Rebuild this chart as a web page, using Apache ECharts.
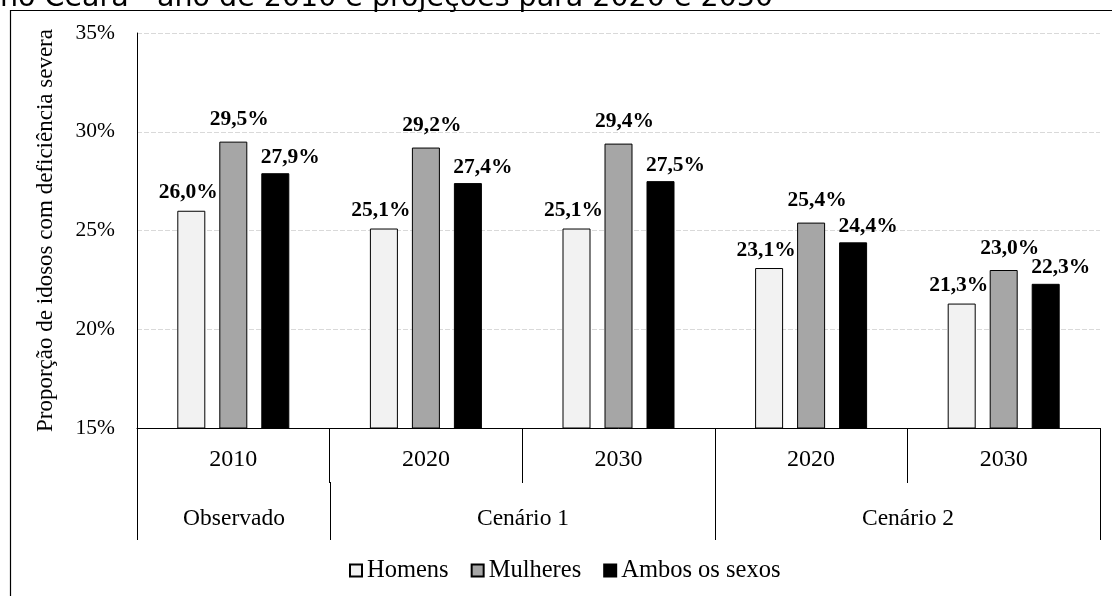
<!DOCTYPE html>
<html>
<head>
<meta charset="utf-8">
<script src="https://cdn.jsdelivr.net/npm/echarts@6/dist/echarts.min.js"></script>
<style>
  html, body { margin: 0; padding: 0; background: #fff; }
  #chart { width: 1112px; height: 596px; }
</style>
</head>
<body>
<div id="chart"></div>
<script>
// Years shown in the first row of the category axis
const years = ['2010', '2020', '2030', '2020', '2030'];
// Second row: group name and the range of year columns it covers
const groupNames = ['Observado', 'Cenário 1', 'Cenário 2'];
const groupSpans = [[0, 0], [1, 2], [3, 4]];

// Share of elderly people with severe disability (%)
const homens = [26.0, 25.1, 25.1, 23.1, 21.3];
const mulheres = [29.5, 29.2, 29.4, 25.4, 23.0];
const ambos = [27.9, 27.4, 27.5, 24.4, 22.3];

const yTicks = { min: 15, max: 35, step: 5 };

const serif = '"Liberation Serif", "Times New Roman", serif';
const fmtPct = v => v.toFixed(1).replace('.', ',') + '%';

function barSeries(name, values, fill, border, labelOffset) {
  return {
    name: name,
    type: 'bar',
    data: values,
    barWidth: 28,
    barGap: '50%',
    itemStyle: { color: fill, borderColor: border, borderWidth: 1 },
    label: {
      show: true,
      position: 'top',
      distance: 7,
      offset: labelOffset,
      formatter: p => fmtPct(p.value),
      fontFamily: serif,
      fontWeight: 'bold',
      fontSize: 21.5,
      color: '#000'
    }
  };
}

const groupData = groupSpans.map((s, i) => [s[0], s[1], groupNames[i]]);

const chart = echarts.init(document.getElementById('chart'), null, { renderer: 'canvas' });
chart.setOption({
  animation: false,
  backgroundColor: '#fff',
  graphic: [
    {
      type: 'rect',
      shape: { x: 10.5, y: 10.5, width: 1300, height: 800 },
      style: { fill: null, stroke: '#000', lineWidth: 1.2 },
      silent: true
    },
    {
      type: 'text',
      left: 0,
      top: -16,
      style: {
        text: 'no Ceará - ano de 2010 e projeções para 2020 e 2030',
        font: '28.5px "DejaVu Sans", Verdana, sans-serif',
        fill: '#000'
      },
      silent: true
    }
  ],
  grid: { left: 137, right: 12, top: 33, bottom: 168, containLabel: false },
  legend: {
    data: ['Homens', 'Mulheres', 'Ambos os sexos'],
    bottom: 8,
    left: 344,
    icon: 'rect',
    itemWidth: 12,
    itemHeight: 12,
    itemGap: 22,
    textStyle: { fontFamily: serif, fontSize: 24.5, color: '#000' }
  },
  xAxis: {
    type: 'category',
    data: years,
    axisLine: { lineStyle: { color: '#000', width: 1 } },
    axisTick: { show: true, interval: 0, length: 55, lineStyle: { color: '#000' } },
    axisLabel: { interval: 0, margin: 20, fontFamily: serif, fontSize: 24, color: '#000' },
    splitLine: { show: false }
  },
  yAxis: {
    type: 'value',
    min: yTicks.min,
    max: yTicks.max,
    interval: yTicks.step,
    name: 'Proporção de idosos com deficiência severa',
    nameLocation: 'middle',
    nameGap: 80,
    nameTextStyle: { fontFamily: serif, fontSize: 23, color: '#000' },
    axisLine: { show: true, lineStyle: { color: '#000', width: 1 } },
    axisTick: { show: false },
    axisLabel: { formatter: '{value}%', margin: 22, fontFamily: serif, fontSize: 21.5, color: '#000' },
    splitLine: { show: true, lineStyle: { color: '#d9d9d9', type: [5, 2], width: 1 } }
  },
  series: [
    barSeries('Homens', homens, '#f2f2f2', '#000', [-3, 0]),
    barSeries('Mulheres', mulheres, '#a6a6a6', '#000', [6, -4]),
    barSeries('Ambos os sexos', ambos, '#000', '#000', [15, 2]),
    {
      // second row of the category axis: group frames and names
      type: 'custom',
      silent: true,
      clip: false,
      data: groupData,
      encode: { x: 0 },
      renderItem: function (params, api) {
        const start = api.value(0);
        const end = api.value(1);
        const band = api.size([1, 0])[0];
        const p0 = api.coord([start, yTicks.min]);
        const p1 = api.coord([end, yTicks.min]);
        const x0 = Math.round(p0[0] - band / 2) + 0.5;
        const x1 = Math.round(p1[0] + band / 2) + 0.5;
        const yb = p0[1];
        const lineStyle = { stroke: '#000', lineWidth: 1 };
        return {
          type: 'group',
          children: [
            { type: 'line', shape: { x1: x0, y1: yb + 54, x2: x0, y2: yb + 112 }, style: lineStyle },
            { type: 'line', shape: { x1: x1, y1: yb + 54, x2: x1, y2: yb + 112 }, style: lineStyle },
            {
              type: 'text',
              x: (x0 + x1) / 2,
              y: yb + 91,
              style: {
                text: api.value(2),
                font: '23.5px "Liberation Serif", "Times New Roman", serif',
                fill: '#000',
                align: 'center',
                verticalAlign: 'middle'
              }
            }
          ]
        };
      }
    }
  ]
});
</script>
</body>
</html>
